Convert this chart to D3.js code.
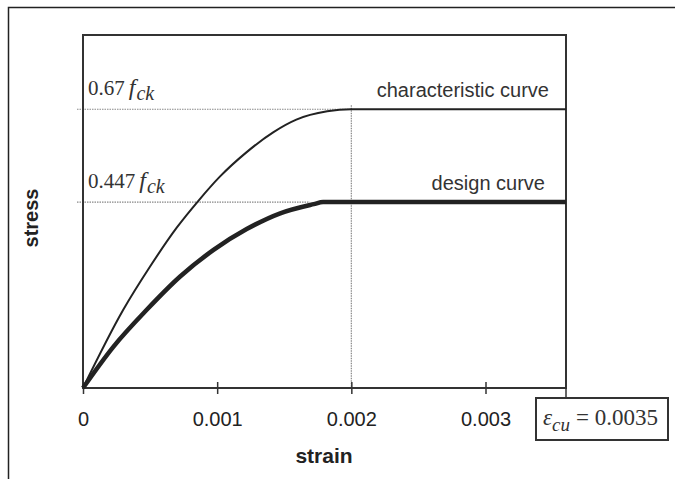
<!DOCTYPE html>
<html>
<head>
<meta charset="utf-8">
<script src="https://cdn.jsdelivr.net/npm/d3@7/dist/d3.min.js"></script>
<style>
  body { margin: 0; background: #fff; }
  svg { display: block; }
</style>
</head>
<body>
<div id="chart"></div>
<script>
// strain values (x) and stress as a fraction of fck (y)
var strainTicks = [0, 0.001, 0.002, 0.003];
var charStrain = [0, 0.0003, 0.0005, 0.0007, 0.00086, 0.00102, 0.00122, 0.00142, 0.00159, 0.00182, 0.002, 0.0036];
var charStress = [0, 0.188, 0.292, 0.386, 0.450, 0.508, 0.567, 0.615, 0.645, 0.665, 0.67, 0.67];
var designStrain = [0, 0.000226, 0.000475, 0.000724, 0.000973, 0.00122, 0.00147, 0.00172, 0.00179, 0.0036];
var designStress = [0, 0.099, 0.188, 0.268, 0.332, 0.382, 0.420, 0.442, 0.447, 0.447];
var levels = [0.67, 0.447];
var levelLabels = ["0.67", "0.447"];
var curveLabels = ["characteristic curve", "design curve"];
var epsCu = 0.0035;

var width = 675, height = 479;
var plotL = 83, plotR = 566, plotT = 35, plotB = 388;
var ink = "#333";

var svg = d3.select("#chart").append("svg")
    .attr("width", width)
    .attr("height", height);

// outer frame (only top and left edge visible)
svg.append("path")
    .attr("d", "M8.5 479 V7.5 H675")
    .attr("fill", "none")
    .attr("stroke", "#222")
    .attr("stroke-width", 1.5);

var x = d3.scaleLinear().domain([0, 0.0036]).range([plotL, plotR]);
var y = d3.scaleLinear().domain([0, 0.8485]).range([plotB, plotT]);

// dotted guide lines
var plateauX = [0.002, 0.00169];
levels.forEach(function(v, i) {
    svg.append("line")
        .attr("x1", plotL - 6).attr("x2", x(plateauX[i]))
        .attr("y1", y(v)).attr("y2", y(v))
        .attr("stroke", "#888")
        .attr("stroke-width", 1.2)
        .attr("stroke-dasharray", "1.5,1");
});
svg.append("line")
    .attr("x1", x(0.002)).attr("x2", x(0.002))
    .attr("y1", y(0.67) - 4).attr("y2", plotB)
    .attr("stroke", "#888")
    .attr("stroke-width", 1.2)
    .attr("stroke-dasharray", "1.5,1");

// plot box
svg.append("rect")
    .attr("x", plotL).attr("y", plotT)
    .attr("width", plotR - plotL).attr("height", plotB - plotT)
    .attr("fill", "none")
    .attr("stroke", ink)
    .attr("stroke-width", 2);

// x axis
var xAxis = d3.axisBottom(x)
    .tickValues(strainTicks)
    .tickSize(6)
    .tickFormat(function(d) { return d === 0 ? "0" : d3.format(".3f")(d); });

var gx = svg.append("g")
    .attr("transform", "translate(0," + plotB + ")")
    .call(xAxis);
gx.select(".domain").remove();
gx.selectAll(".tick line")
    .attr("y1", function(d) { return d === 0 ? 0 : -6; })
    .attr("stroke", ink)
    .attr("stroke-width", 1.5);
gx.selectAll(".tick text")
    .attr("y", 38).attr("dy", 0)
    .attr("fill", "#222")
    .style("font-family", "'Liberation Sans', Arial, sans-serif")
    .style("font-size", "20px");

// small tick linking the right edge to the eps box
svg.append("line")
    .attr("x1", plotR).attr("x2", plotR)
    .attr("y1", plotB).attr("y2", 398)
    .attr("stroke", ink).attr("stroke-width", 1.5);

// curves
var line = d3.line()
    .x(function(d) { return x(d[0]); })
    .y(function(d) { return y(d[1]); })
    .curve(d3.curveMonotoneX);

svg.append("path")
    .datum(d3.zip(charStrain, charStress))
    .attr("d", line)
    .attr("fill", "none")
    .attr("stroke", "#222")
    .attr("stroke-width", 2);

svg.append("path")
    .datum(d3.zip(designStrain, designStress))
    .attr("d", line)
    .attr("fill", "none")
    .attr("stroke", "#222")
    .attr("stroke-width", 4.5);

// level labels 0.67 fck / 0.447 fck
levels.forEach(function(v, i) {
    var t = svg.append("text")
        .attr("x", plotL + 5)
        .attr("y", y(v) - 14)
        .attr("fill", "#333")
        .style("font-family", "'Liberation Serif', 'Times New Roman', serif")
        .style("font-size", "21px");
    t.append("tspan").text(levelLabels[i]);
    t.append("tspan").attr("dx", 4).style("font-style", "italic").style("font-size", "24px").text("f");
    t.append("tspan").attr("dx", 1).attr("dy", 5).style("font-style", "italic").style("font-size", "20px").text("ck");
});

// curve labels
curveLabels.forEach(function(s, i) {
    svg.append("text")
        .attr("x", 549 - i * 4)
        .attr("y", y(levels[i]) - 12)
        .attr("text-anchor", "end")
        .attr("fill", "#333")
        .style("font-family", "'Liberation Sans', Arial, sans-serif")
        .style("font-size", "20px")
        .text(s);
});

// axis titles
svg.append("text")
    .attr("transform", "translate(38,218) rotate(-90)")
    .attr("text-anchor", "middle")
    .attr("fill", "#222")
    .style("font-family", "'Liberation Sans', Arial, sans-serif")
    .style("font-size", "20px")
    .style("font-weight", "bold")
    .text("stress");

svg.append("text")
    .attr("x", 324).attr("y", 463)
    .attr("text-anchor", "middle")
    .attr("fill", "#222")
    .style("font-family", "'Liberation Sans', Arial, sans-serif")
    .style("font-size", "21px")
    .style("font-weight", "bold")
    .text("strain");

// eps_cu box
svg.append("rect")
    .attr("x", 536).attr("y", 398)
    .attr("width", 132).attr("height", 42)
    .attr("fill", "#fff")
    .attr("stroke", ink)
    .attr("stroke-width", 2);

var et = svg.append("text")
    .attr("x", 543).attr("y", 425)
    .attr("fill", "#333")
    .style("font-family", "'Liberation Serif', 'Times New Roman', serif")
    .style("font-size", "23px");
et.append("tspan").style("font-style", "italic").text("\u03b5");
et.append("tspan").attr("dy", 6).style("font-style", "italic").style("font-size", "19px").text("cu");
et.append("tspan").attr("dy", -6).attr("dx", 6).text("= " + epsCu);
</script>
</body>
</html>
